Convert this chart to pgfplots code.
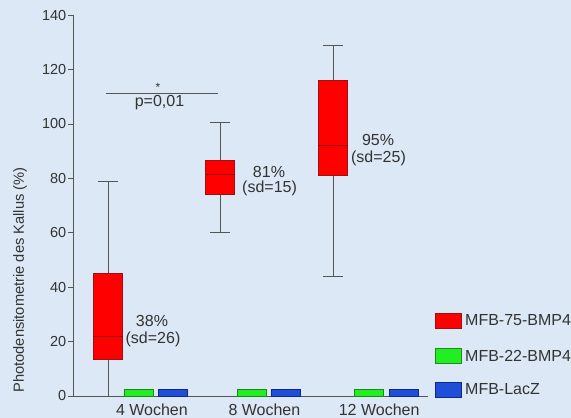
\documentclass[border=0pt]{standalone}
\usepackage{pgfplots}
\pgfplotsset{compat=1.18}
\usepackage{fontspec}
\setmainfont{Liberation Sans}
\definecolor{bg}{HTML}{DCE8F5}
\definecolor{axgray}{HTML}{555555}
\definecolor{txt}{HTML}{333333}
\definecolor{boxred}{HTML}{FF0000}
\definecolor{boxedge}{HTML}{A01010}
\definecolor{medred}{HTML}{A00000}
\definecolor{mygreen}{HTML}{22EE22}
\definecolor{greenedge}{HTML}{1A8A1A}
\definecolor{myblue}{HTML}{1F4FD8}
\definecolor{blueedge}{HTML}{0C2A8A}
\begin{document}
\begin{tikzpicture}
\path[use as bounding box, fill=bg] (-73bp,-22bp) rectangle (498bp,396bp);
\begin{axis}[
  scale only axis,
  width=355bp, height=380.8bp,
  xmin=-0.311, xmax=2.844,
  ymin=0, ymax=140,
  axis lines*=left,
  axis line style={draw=axgray, line width=0.9bp},
  every tick/.style={draw=axgray, line width=0.9bp},
  tick align=outside,
  major tick length=5bp,
  ytick={0,20,...,140},
  ytick pos=left,
  xtick={0.39,1.39,2.41},
  xticklabels={4 Wochen,8 Wochen,12 Wochen},
  x tick style={draw=none},
  /pgf/number format/assume math mode=true,
  yticklabel style={font=\fontsize{14.5bp}{16bp}\selectfont, text=txt, inner sep=1.5bp},
  xticklabel style={font=\fontsize{16bp}{18bp}\selectfont, text=txt, inner sep=2bp, yshift=-1bp},
  clip=false,
  unbounded coords=jump,
]
% whiskers and caps (x, value); nan separates segments
\addplot[axgray, line width=0.9bp] coordinates {
  (0,45) (0,79) (0,nan) (-0.089,79) (0.089,79) (0.089,nan)
  (0,13.6) (0,0) (0,nan)
  (0.996,86.5) (0.996,100.5) (0.996,nan) (0.907,100.5) (1.085,100.5) (1.085,nan)
  (0.996,74) (0.996,60) (0.996,nan) (0.907,60) (1.085,60) (1.085,nan)
  (2.0,116.2) (2.0,128.8) (2.0,nan) (1.911,128.8) (2.089,128.8) (2.089,nan)
  (2.0,81) (2.0,44) (2.0,nan) (1.911,44) (2.089,44)
};
% boxes: lower quartile to upper quartile
\addplot[fill=boxred, draw=boxedge, line width=0.8bp] coordinates {(-0.129,13.6) (0.129,13.6) (0.129,45) (-0.129,45)} -- cycle;
\addplot[fill=boxred, draw=boxedge, line width=0.8bp] coordinates {(0.867,74) (1.125,74) (1.125,86.5) (0.867,86.5)} -- cycle;
\addplot[fill=boxred, draw=boxedge, line width=0.8bp] coordinates {(1.871,81) (2.129,81) (2.129,116.2) (1.871,116.2)} -- cycle;
% medians
\addplot[medred, line width=0.8bp] coordinates {
  (-0.129,21.8) (0.129,21.8) (0.129,nan)
  (0.867,81.3) (1.125,81.3) (1.125,nan)
  (1.871,92.3) (2.129,92.3)
};
\addplot[ybar, bar width=0.258, bar shift=0pt, fill=mygreen, draw=greenedge, line width=0.8bp] coordinates {(0.271,2.5) (1.28,2.5) (2.32,2.5)};
\addplot[ybar, bar width=0.258, bar shift=0pt, fill=myblue, draw=blueedge, line width=0.8bp] coordinates {(0.578,2.5) (1.58,2.5) (2.631,2.5)};
% significance
\draw[axgray, line width=0.9bp] (axis cs:-0.018,111.3) -- (axis cs:0.978,111.3);
\node[text=txt, font=\fontsize{12bp}{12bp}\selectfont, inner sep=0pt] at (axis cs:0.445,113.5) {*};
\node[text=txt, font=\fontsize{16bp}{18bp}\selectfont, inner sep=0pt] at (axis cs:0.458,107.7) {p=0,01};
% annotations
\node[text=txt, font=\fontsize{16bp}{18bp}\selectfont, inner sep=0pt] at (axis cs:0.391,27.6) {38\%};
\node[text=txt, font=\fontsize{16bp}{18bp}\selectfont, inner sep=0pt] at (axis cs:0.40,20.8) {(sd=26)};
\node[text=txt, font=\fontsize{16bp}{18bp}\selectfont, inner sep=0pt] at (axis cs:1.431,82.4) {81\%};
\node[text=txt, font=\fontsize{16bp}{18bp}\selectfont, inner sep=0pt] at (axis cs:1.436,76.5) {(sd=15)};
\node[text=txt, font=\fontsize{16bp}{18bp}\selectfont, inner sep=0pt] at (axis cs:2.40,94.1) {95\%};
\node[text=txt, font=\fontsize{16bp}{18bp}\selectfont, inner sep=0pt] at (axis cs:2.404,87.5) {(sd=25)};
\end{axis}
% y label
\node[rotate=90, text=txt, font=\fontsize{14.7bp}{16bp}\selectfont, inner sep=0pt] at (-53bp,116bp) {Photodensitometrie des Kallus (\%)};
% legend
\draw[fill=boxred, draw=boxedge, line width=0.8bp] (362bp,68bp) rectangle (388bp,83bp);
\draw[fill=mygreen, draw=greenedge, line width=0.8bp] (362bp,33bp) rectangle (388bp,48bp);
\draw[fill=myblue, draw=blueedge, line width=0.8bp] (362bp,-1bp) rectangle (388bp,14bp);
\node[anchor=west, text=txt, font=\fontsize{16bp}{18bp}\selectfont, inner sep=0pt] at (392bp,75.5bp) {MFB-75-BMP4};
\node[anchor=west, text=txt, font=\fontsize{16bp}{18bp}\selectfont, inner sep=0pt] at (392bp,40.5bp) {MFB-22-BMP4};
\node[anchor=west, text=txt, font=\fontsize{16bp}{18bp}\selectfont, inner sep=0pt] at (392bp,6.5bp) {MFB-LacZ};
\end{tikzpicture}
\end{document}
